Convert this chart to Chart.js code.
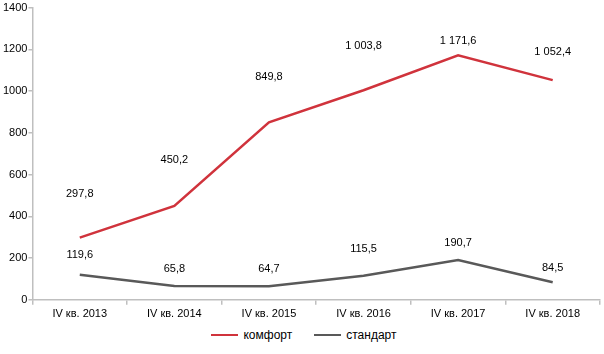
<!DOCTYPE html>
<html>
<head>
<meta charset="utf-8">
<script src="https://cdn.jsdelivr.net/npm/chart.js@4/dist/chart.umd.min.js"></script>
<style>
  html, body { margin: 0; padding: 0; background: #fff; }
  #wrap { width: 604px; height: 354px; position: relative; }
  #legend {
    display: flex; justify-content: center; align-items: center;
    height: 22px; margin-left: 4px;
    font: 12px "Liberation Sans", Arial, sans-serif; color: #000;
  }
  #legend .item { display: flex; align-items: center; margin: 0 11px; }
  #legend .swatch { width: 27px; height: 2px; margin-right: 5px; }
</style>
</head>
<body>
<div id="wrap">
  <canvas id="chart" width="604" height="324"></canvas>
  <div id="legend"></div>
</div>
<script>
// categories and values
const quarters = ['IV кв. 2013', 'IV кв. 2014', 'IV кв. 2015', 'IV кв. 2016', 'IV кв. 2017', 'IV кв. 2018'];
const komfort = [297.8, 450.2, 849.8, 1003.8, 1171.6, 1052.4];
const standart = [119.6, 65.8, 64.7, 115.5, 190.7, 84.5];
const yTicks = [0, 200, 400, 600, 800, 1000, 1200, 1400];

// how far above each point its label sits (px), like the original layout
const komfortLabelLift = [44, 46, 45, 44, 14, 28];
const standartLabelLift = [20, 17, 17, 27, 17, 14];

const RED = '#d0333c';
const GREY = '#595959';
const AXIS = '#bfbfbf';
const FONT = '"Liberation Sans", Arial, sans-serif';

function fmt(v) {
  const parts = v.toFixed(1).split('.');
  const intPart = parts[0].replace(/\B(?=(\d{3})+(?!\d))/g, ' ');
  return intPart + ',' + parts[1];
}

const valueLabels = {
  id: 'valueLabels',
  afterDatasetsDraw(chart) {
    const ctx = chart.ctx;
    ctx.save();
    ctx.font = '11px ' + FONT;
    ctx.fillStyle = '#000';
    ctx.textAlign = 'center';
    ctx.textBaseline = 'middle';
    chart.data.datasets.forEach((ds, i) => {
      const meta = chart.getDatasetMeta(i);
      meta.data.forEach((pt, j) => {
        ctx.fillText(fmt(ds.data[j]), pt.x, pt.y - ds.labelLift[j]);
      });
    });
    ctx.restore();
  }
};

const ctx = document.getElementById('chart').getContext('2d');
const chart = new Chart(ctx, {
  type: 'line',
  data: {
    labels: quarters,
    datasets: [
      {
        label: 'комфорт',
        data: komfort,
        labelLift: komfortLabelLift,
        borderColor: RED,
        backgroundColor: RED,
        borderWidth: 2.5,
        pointRadius: 0,
        tension: 0
      },
      {
        label: 'стандарт',
        data: standart,
        labelLift: standartLabelLift,
        borderColor: GREY,
        backgroundColor: GREY,
        borderWidth: 2.5,
        pointRadius: 0,
        tension: 0
      }
    ]
  },
  options: {
    responsive: false,
    animation: false,
    layout: { padding: { top: 2, right: 4, left: 2, bottom: 0 } },
    plugins: {
      tooltip: { enabled: false },
      legend: { display: false }
    },
    scales: {
      x: {
        offset: true,
        border: { color: AXIS, width: 1.5 },
        grid: { offset: true, drawOnChartArea: false, drawTicks: true, tickLength: 5, color: AXIS, lineWidth: 1.5 },
        ticks: {
          color: '#000',
          font: { family: FONT, size: 11 },
          maxRotation: 0,
          padding: 3
        }
      },
      y: {
        min: 0,
        max: 1400,
        afterBuildTicks(axis) {
          axis.ticks = yTicks.map(v => ({ value: v }));
        },
        border: { color: AXIS, width: 1.5 },
        grid: { drawOnChartArea: false, drawTicks: true, tickLength: 4, color: AXIS, lineWidth: 1.5 },
        ticks: {
          color: '#000',
          font: { family: FONT, size: 11 },
          padding: 1,
          callback: v => String(v)
        }
      }
    }
  },
  plugins: [valueLabels]
});

// HTML legend built from the datasets
const legendEl = document.getElementById('legend');
chart.data.datasets.forEach(ds => {
  const item = document.createElement('div');
  item.className = 'item';
  const sw = document.createElement('span');
  sw.className = 'swatch';
  sw.style.background = ds.borderColor;
  const txt = document.createElement('span');
  txt.textContent = ds.label;
  item.appendChild(sw);
  item.appendChild(txt);
  legendEl.appendChild(item);
});
</script>
</body>
</html>
